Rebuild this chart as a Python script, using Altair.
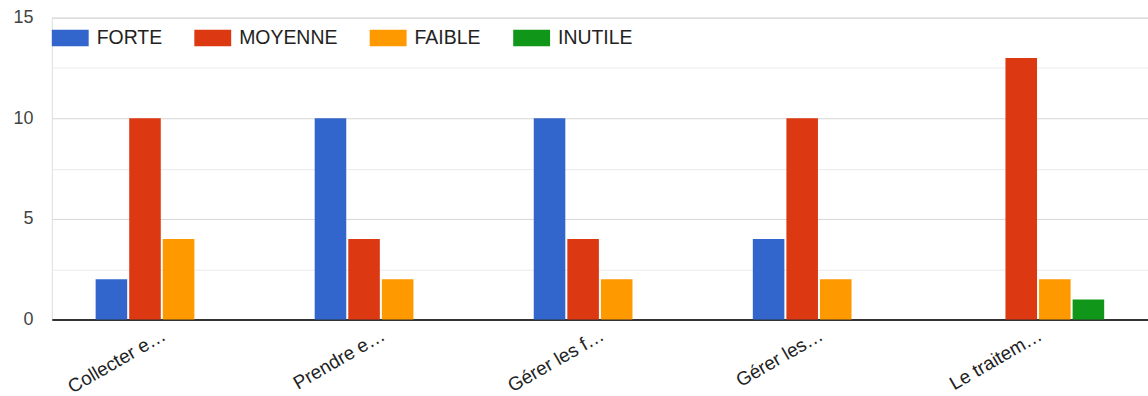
import altair as alt
import pandas as pd

categories = ["Collecter e…", "Prendre e…", "Gérer les f…", "Gérer les…", "Le traitem…"]
series = ["FORTE", "MOYENNE", "FAIBLE", "INUTILE"]
forte = [2, 10, 10, 4, 0]
moyenne = [10, 4, 4, 10, 13]
faible = [4, 2, 2, 2, 2]
inutile = [0, 0, 0, 0, 1]
colors = ["#3366cc", "#dc3912", "#ff9900", "#109618"]
y_ticks = [0, 2.5, 5, 7.5, 10, 12.5, 15]

rows = []
for s, vals in zip(series, [forte, moyenne, faible, inutile]):
    for c, v in zip(categories, vals):
        rows.append({"cat": c, "serie": s, "val": v})
df = pd.DataFrame(rows)

FONT = "Liberation Sans"

bars = alt.Chart(df).mark_bar().encode(
    x=alt.X("cat:N", sort=categories, title=None,
            scale=alt.Scale(paddingInner=0.396, paddingOuter=0.2),
            axis=alt.Axis(labelAngle=-30, labelAlign="right", labelBaseline="top",
                          labelPadding=6, labelOffset=-2, ticks=False, domainColor="#333333",
                          domainWidth=2, labelFontSize=19, labelColor="#222222",
                          labelFont=FONT, grid=False, labelLimit=300)),
    xOffset=alt.XOffset("serie:N", sort=series, scale=alt.Scale(paddingInner=0.06, paddingOuter=0)),
    y=alt.Y("val:Q", title=None,
            scale=alt.Scale(domain=[0, 15], nice=False),
            axis=alt.Axis(values=y_ticks, ticks=False, domain=False,
                          labelExpr="datum.value % 5 === 0 ? datum.label : ''",
                          labelPadding=19, labelFontSize=18, labelColor="#444444",
                          labelFont=FONT,
                          gridColor={"condition": {"test": "datum.value % 5 === 0", "value": "#d6d6d6"},
                                     "value": "#ebebeb"})),
    color=alt.Color("serie:N", sort=series,
                    scale=alt.Scale(domain=series, range=colors),
                    legend=alt.Legend(title=None, orient="none", direction="horizontal",
                                      legendX=0, legendY=2, padding=0,
                                      symbolType="M-1,-0.45H1V0.45H-1Z", symbolSize=1369,
                                      symbolStrokeWidth=0, symbolOpacity=1,
                                      labelOffset=8, columnPadding=32,
                                      labelFontSize=19.5, labelColor="#222222", labelFont=FONT)),
)

chart = bars.properties(
    width=1100, height=303,
    autosize=alt.AutoSizeParams(type="none"),
    padding={"left": 52, "top": 17, "right": 0, "bottom": 76},
).configure_view(stroke=None).configure(background="white")

chart.save("out.html", embed_options={"renderer": "svg", "actions": False})
